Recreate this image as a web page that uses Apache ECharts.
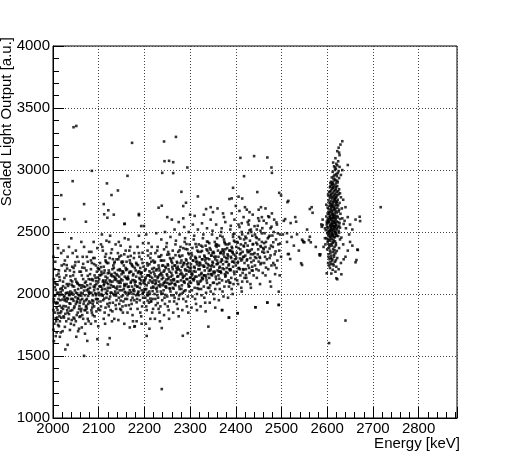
<!DOCTYPE html>
<html>
<head>
<meta charset="utf-8">
<script src="https://cdn.jsdelivr.net/npm/echarts@6/dist/echarts.min.js"></script>
<style>
    html, body { margin: 0; padding: 0; background: #fff; }
    #main { width: 508px; height: 465px; }
</style>
</head>
<body>
<div id="main"></div>
<script>
// x axis / y axis ranges and tick steps
var energyRange = [2000, 2884];
var lightRange = [1000, 4000];

// continuum band, [energy keV, light a.u.]
var band2000 = [[2001,1712],[2003,1985],[2004,1850],[2002,2120],[2006,1930],[2007,1780],[2005,2260],[2009,2010],[2008,1890],[2011,1750],[2010,2075],[2012,1960],[2013,2190],[2014,1820],[2015,1905],[2016,2040],[2017,1690],[2018,2330],[2019,1995],[2001,1870],[2002,1935],[2004,2055],[2006,1805],[2008,2150],[2010,1870],[2012,2010],[2013,1740],[2015,2110],[2016,1950],[2018,1860],[2019,2230],[2003,1760],[2005,1990],[2007,2080],[2009,1930],[2011,1845],[2014,1990],[2017,2015],[2001,2300],[2011,2370],[2006,1660],[2015,1780],[2003,2200],[2009,1810],[2019,1890],
    [2021,1955],[2022,2100],[2023,1820],[2024,2240],[2025,1985],[2026,1735],[2027,2050],[2028,1900],[2029,2150],[2030,2010],[2031,1870],[2032,2300],[2033,1960],[2034,1800],[2035,2080],[2036,1925],[2037,2190],[2038,2020],[2039,1760],[2021,2030],[2022,1880],[2024,1975],[2025,2130],[2027,1840],[2028,2005],[2030,1940],[2031,2205],[2033,2065],[2034,1890],[2036,1990],[2037,1710],[2039,2110],[2040,1960],[2023,2350],[2026,2270],[2029,1780],[2032,1850],[2035,1995],[2038,1865],[2021,1700],[2024,1810],[2030,2080],[2035,2380],[2039,2000],[2027,1960],
    [2041,1790],[2042,2010],[2043,1960],[2044,2150],[2045,1810],[2046,2060],[2047,1900],[2048,2230],[2049,1975],[2050,1780],[2051,2100],[2052,1940],[2053,2300],[2054,1850],[2055,2040],[2056,1990],[2057,1720],[2058,2180],[2059,1930],[2041,2075],[2042,1870],[2044,1995],[2045,2210],[2047,1800],[2048,2030],[2050,1920],[2051,1655],[2053,2090],[2054,1960],[2056,2260],[2057,1880],[2059,2070],[2060,1820],[2043,2330],[2046,1750],[2049,2120],[2052,1830],[2055,1965],[2058,1990],[2042,2220],[2050,2350],[2055,1700],[2058,1815],[2045,1945],[2053,2005],
    [2061,2010],[2062,1880],[2063,2150],[2064,1960],[2065,2300],[2066,1800],[2067,2060],[2068,1940],[2069,2210],[2070,1990],[2071,1760],[2072,2100],[2073,1905],[2074,2030],[2075,1850],[2076,2260],[2077,1985],[2078,2120],[2079,1940],[2061,2180],[2062,2050],[2064,1830],[2065,2005],[2067,1920],[2068,2380],[2070,2090],[2071,1870],[2073,2190],[2074,1960],[2076,1800],[2077,2040],[2079,2340],[2080,2010],[2063,1730],[2066,2120],[2069,1870],[2072,1950],[2075,2070],[2078,1780],[2062,2420],[2074,2300],[2064,2070],[2070,1680],[2077,1920],[2060,1950],
    [2081,2050],[2082,1930],[2083,2200],[2084,2010],[2085,1850],[2086,2120],[2087,1990],[2088,2290],[2089,2060],[2090,1900],[2091,2150],[2092,2005],[2093,1780],[2094,2230],[2095,2080],[2096,1960],[2097,2370],[2098,2040],[2099,1880],[2081,2160],[2082,2080],[2084,1870],[2085,2250],[2087,2110],[2088,1940],[2090,2030],[2091,1820],[2093,2130],[2094,1990],[2096,2180],[2097,1930],[2099,2100],[2100,2010],[2083,1760],[2086,1950],[2089,2420],[2092,2070],[2095,1860],[2098,2210],[2084,2340],[2091,2290],[2095,2000],[2099,1740],[2087,1830],[2100,2200],
    [2004,2088],[2007,1923],[2012,2163],[2016,1847],[2019,2047],[2023,1903],[2027,2187],[2031,1967],[2035,1838],[2038,2143],[2043,2063],[2046,1887],[2049,2257],[2053,1934],[2057,2073],[2061,1861],[2064,2213],[2068,2027],[2072,1897],[2076,2147],[2079,2003],[2083,2271],[2087,1917],[2091,2053],[2094,1959],[2098,2133],
    [2002,1957],[2006,2033],[2010,1927],[2014,2137],[2018,1809],[2022,2063],[2026,1947],[2030,2233],[2034,2011],[2038,1921],[2042,2101],[2046,2177],[2050,2011],[2054,2083],[2058,1903],[2062,1987],[2066,2243],[2070,2057],[2074,1883],[2078,2019],[2082,2117],[2086,1891],[2090,2241],[2094,2103],[2098,1957]];

var band2100 = [[2101,2120],[2102,1990],[2103,2250],[2104,2060],[2105,1900],[2106,2180],[2107,2030],[2108,2380],[2109,2100],[2110,1950],[2111,2220],[2112,2080],[2113,1850],[2114,2300],[2115,2140],[2116,2010],[2117,2430],[2118,2090],[2119,1920],[2101,2200],[2102,2150],[2104,1940],[2105,2060],[2107,2160],[2108,1990],[2110,2110],[2111,1800],[2113,2190],[2114,2040],[2116,2260],[2117,1970],[2119,2130],[2120,2050],[2103,1870],[2106,2000],[2109,2350],[2112,2170],[2115,1890],[2118,2250],[2105,2400],[2111,2070],[2114,1760],[2118,2000],[2107,2480],[2116,2110],
    [2121,2080],[2122,2190],[2123,1960],[2124,2290],[2125,2050],[2126,1870],[2127,2150],[2128,2010],[2129,2360],[2130,2100],[2131,1930],[2132,2230],[2133,2060],[2134,1800],[2135,2170],[2136,2020],[2137,2400],[2138,2120],[2139,1950],[2121,2250],[2122,1900],[2124,2110],[2125,1980],[2127,2330],[2128,2160],[2130,1860],[2131,2060],[2133,2210],[2134,1990],[2136,2130],[2137,1910],[2139,2280],[2140,2040],[2123,2420],[2126,2100],[2129,1780],[2132,2000],[2135,2260],[2138,1880],[2125,2470],[2130,2200],[2134,2140],[2137,2050],[2122,1830],[2139,2160],
    [2141,2150],[2142,2010],[2143,2280],[2144,2090],[2145,1920],[2146,2200],[2147,2060],[2148,2390],[2149,2120],[2150,1980],[2151,2250],[2152,2110],[2153,1850],[2154,2170],[2155,2040],[2156,2320],[2157,2140],[2158,1960],[2159,2210],[2141,2060],[2142,2330],[2144,1970],[2145,2140],[2147,1880],[2148,2090],[2150,2260],[2151,2030],[2153,2180],[2154,1940],[2156,2080],[2157,2450],[2159,2010],[2160,2130],[2143,1790],[2146,2030],[2149,2310],[2152,1900],[2155,2230],[2158,2070],[2144,2420],[2150,2160],[2153,1990],[2156,1760],[2159,2350],[2147,2190],
    [2161,2080],[2162,2200],[2163,1990],[2164,2300],[2165,2120],[2166,1910],[2167,2170],[2168,2030],[2169,2380],[2170,2090],[2171,1950],[2172,2240],[2173,2060],[2174,1830],[2175,2150],[2176,2000],[2177,2290],[2178,2110],[2179,1740],[2161,2260],[2162,1960],[2164,2140],[2165,2010],[2167,2350],[2168,2180],[2170,1880],[2171,2100],[2173,2230],[2174,1970],[2176,2160],[2177,2040],[2179,2210],[2180,2070],[2163,1850],[2166,2060],[2169,2250],[2172,1920],[2175,2030],[2178,2330],[2165,2440],[2171,2180],[2175,1780],[2162,2120],[2178,1950],[2168,1730],
    [2181,2100],[2182,1990],[2183,2240],[2184,2060],[2185,1880],[2186,2170],[2187,2020],[2188,2330],[2189,2130],[2190,1950],[2191,2210],[2192,2080],[2193,1820],[2194,2280],[2195,2140],[2196,2000],[2197,2410],[2198,2090],[2199,1930],[2181,2190],[2182,2140],[2184,1960],[2185,2060],[2187,2180],[2188,1990],[2190,2120],[2191,1850],[2193,2170],[2194,2030],[2196,2250],[2197,1970],[2199,2110],[2200,2040],[2183,1780],[2186,2010],[2189,2300],[2192,2160],[2195,1900],[2198,2220],[2185,2380],[2190,2050],[2194,1760],[2199,2020],[2188,2470],
    [2102,2063],[2105,2217],[2109,1987],[2113,2097],[2116,2323],[2120,2167],[2124,1927],[2127,2073],[2131,2281],[2135,2113],[2138,1987],[2142,2193],[2146,2103],[2149,1871],[2153,2261],[2157,2017],[2160,2193],[2164,2057],[2168,2271],[2171,2013],[2175,2221],[2179,2093],[2183,1933],[2186,2233],[2190,2087],[2194,2173],[2197,2009],
    [2104,2153],[2108,2043],[2112,1963],[2115,2271],[2119,2027],[2123,2171],[2126,2011],[2130,2143],[2134,2249],[2137,2001],[2141,2103],[2145,2301],[2148,1947],[2152,2183],[2156,2063],[2159,1907],[2163,2127],[2167,2003],[2170,2307],[2174,2113],[2178,2023],[2182,2251],[2185,1997],[2189,2181],[2193,2109],[2196,2333],[2200,2103]];

var band2200 = [[2201,2080],[2202,1970],[2203,2200],[2204,2040],[2205,1870],[2206,2150],[2207,2010],[2208,2310],[2209,2090],[2210,1930],[2211,2240],[2212,2110],[2213,1800],[2214,2170],[2215,2050],[2216,2380],[2217,2130],[2218,1960],[2219,2270],[2201,2190],[2202,2120],[2204,1900],[2205,2070],[2207,2230],[2208,1990],[2210,2150],[2211,2020],[2213,2290],[2214,1940],[2216,2100],[2217,1850],[2219,2060],[2220,2180],[2203,1760],[2206,1990],[2209,2410],[2212,2000],[2215,2260],[2218,2090],[2204,2480],[2211,1720],[2215,1940],[2219,1880],[2207,2350],[2213,2140],
    [2221,2110],[2222,2000],[2223,2260],[2224,2080],[2225,1910],[2226,2190],[2227,2050],[2228,2350],[2229,2130],[2230,1970],[2231,2230],[2232,2100],[2233,1850],[2234,2300],[2235,2160],[2236,2020],[2237,2440],[2238,2120],[2239,1950],[2221,2210],[2222,2160],[2224,1960],[2225,2090],[2227,2200],[2228,2020],[2230,2140],[2231,1880],[2233,2190],[2234,2060],[2236,2270],[2237,2000],[2239,2150],[2240,2070],[2223,1800],[2226,2040],[2229,2380],[2232,2210],[2235,1900],[2238,2270],[2226,2490],[2231,2070],[2234,1780],[2237,2170],[2224,2330],
    [2241,2130],[2242,2030],[2243,2270],[2244,2090],[2245,1920],[2246,2220],[2247,2060],[2248,2380],[2249,2160],[2250,1980],[2251,2240],[2252,2120],[2253,1870],[2254,2320],[2255,2180],[2256,2040],[2257,2460],[2258,2140],[2259,1990],[2241,2230],[2242,2180],[2244,1970],[2245,2100],[2247,2210],[2248,2050],[2250,2150],[2251,1900],[2253,2200],[2254,2080],[2256,2290],[2257,2020],[2259,2170],[2260,2090],[2243,1830],[2246,2060],[2249,2410],[2252,2230],[2255,1940],[2258,2280],[2245,2500],[2250,2090],[2254,1800],[2258,2110],[2243,2360],
    [2261,2150],[2262,2050],[2263,2290],[2264,2110],[2265,1940],[2266,2230],[2267,2080],[2268,2400],[2269,2180],[2270,2010],[2271,2260],[2272,2140],[2273,1880],[2274,2340],[2275,2200],[2276,2060],[2277,2480],[2278,2160],[2279,2000],[2261,2250],[2262,2200],[2264,1990],[2265,2120],[2267,2230],[2268,2070],[2270,2170],[2271,1920],[2273,2220],[2274,2100],[2276,2310],[2277,2040],[2279,2190],[2280,2110],[2263,1850],[2266,2080],[2269,2430],[2272,2250],[2275,1960],[2278,2300],[2266,2520],[2271,2100],[2275,1820],[2279,2380],[2262,2350],
    [2281,2170],[2282,2070],[2283,2310],[2284,2130],[2285,1960],[2286,2250],[2287,2100],[2288,2420],[2289,2200],[2290,2030],[2291,2280],[2292,2160],[2293,1900],[2294,2360],[2295,2220],[2296,2080],[2297,2500],[2298,2180],[2299,2020],[2281,2270],[2282,2220],[2284,2010],[2285,2140],[2287,2250],[2288,2090],[2290,2190],[2291,1940],[2293,2240],[2294,2120],[2296,2330],[2297,2060],[2299,2210],[2300,2130],[2283,1870],[2286,2100],[2289,2450],[2292,2270],[2295,1980],[2298,2320],[2287,2540],[2292,2120],[2296,1850],[2299,2400],[2285,2370],
    [2202,2037],[2206,2249],[2209,2151],[2213,1963],[2217,2203],[2220,2051],[2224,2143],[2228,1991],[2231,2301],[2235,2077],[2239,2229],[2242,2087],[2246,1993],[2250,2317],[2253,2133],[2257,2081],[2261,2219],[2264,2043],[2268,2313],[2272,2197],[2276,1989],[2279,2251],[2283,2157],[2287,2023],[2290,2363],[2294,2189],[2298,2063],
    [2203,2133],[2207,1947],[2211,2183],[2214,2327],[2218,2023],[2222,2253],[2226,2109],[2229,1927],[2233,2151],[2237,2313],[2240,2003],[2244,2191],[2248,2117],[2252,2339],[2255,2047],[2259,2263],[2263,2117],[2266,1969],[2270,2209],[2274,2143],[2277,2353],[2281,2041],[2285,2233],[2288,2147],[2292,2403],[2296,2249],[2299,2099]];

var band2300 = [[2301,2190],[2302,2090],[2303,2330],[2304,2150],[2305,1980],[2306,2270],[2307,2120],[2308,2440],[2309,2220],[2310,2050],[2311,2300],[2312,2180],[2313,1920],[2314,2380],[2315,2240],[2316,2100],[2317,2520],[2318,2200],[2319,2040],[2301,2290],[2302,2240],[2304,2030],[2305,2160],[2307,2270],[2308,2110],[2310,2210],[2311,1960],[2313,2260],[2314,2140],[2316,2350],[2317,2080],[2319,2230],[2320,2150],[2303,1890],[2306,2120],[2309,2470],[2312,2290],[2315,2000],[2318,2340],[2306,2560],[2311,2140],[2315,1870],[2319,2400],[2303,2170],
    [2321,2200],[2322,2100],[2323,2340],[2324,2160],[2325,1990],[2326,2280],[2327,2130],[2328,2450],[2329,2230],[2330,2060],[2331,2310],[2332,2190],[2333,1930],[2334,2390],[2335,2250],[2336,2110],[2337,2530],[2338,2210],[2339,2050],[2321,2300],[2322,2250],[2324,2040],[2325,2170],[2327,2280],[2328,2120],[2330,2220],[2331,1970],[2333,2270],[2334,2150],[2336,2360],[2337,2090],[2339,2240],[2340,2160],[2323,1900],[2326,2130],[2329,2480],[2332,2300],[2335,2010],[2338,2350],[2326,2570],[2331,2150],[2334,1860],[2339,2420],[2324,2390],
    [2341,2230],[2342,2130],[2343,2370],[2344,2190],[2345,2020],[2346,2310],[2347,2160],[2348,2480],[2349,2260],[2350,2090],[2351,2340],[2352,2220],[2353,1960],[2354,2420],[2355,2280],[2356,2140],[2357,2560],[2358,2240],[2359,2080],[2341,2330],[2342,2280],[2344,2070],[2345,2200],[2347,2310],[2348,2150],[2350,2250],[2351,2000],[2353,2300],[2354,2180],[2356,2390],[2357,2120],[2359,2270],[2360,2190],[2343,1930],[2346,2160],[2349,2510],[2352,2330],[2355,2040],[2358,2380],[2345,2600],[2351,2180],[2355,1890],[2359,2450],[2342,2410],
    [2361,2250],[2362,2150],[2363,2390],[2364,2210],[2365,2040],[2366,2330],[2367,2180],[2368,2500],[2369,2280],[2370,2110],[2371,2360],[2372,2240],[2373,1980],[2374,2440],[2375,2300],[2376,2160],[2377,2580],[2378,2260],[2379,2100],[2361,2350],[2362,2300],[2364,2090],[2365,2220],[2367,2330],[2368,2170],[2370,2270],[2371,2020],[2373,2320],[2374,2200],[2376,2410],[2377,2140],[2379,2290],[2380,2210],[2363,1950],[2366,2180],[2369,2530],[2372,2350],[2375,2060],[2378,2400],[2370,1870],[2374,2620],[2366,2470],[2377,2360],
    [2381,2260],[2382,2170],[2383,2400],[2384,2230],[2385,2060],[2386,2350],[2387,2200],[2388,2520],[2389,2300],[2390,2130],[2391,2380],[2392,2260],[2393,2000],[2394,2460],[2395,2320],[2396,2180],[2397,2600],[2398,2280],[2399,2120],[2381,2370],[2382,2320],[2384,2110],[2385,2240],[2387,2350],[2388,2190],[2390,2290],[2391,2040],[2393,2340],[2394,2220],[2396,2430],[2397,2160],[2399,2310],[2400,2230],[2383,1970],[2386,2200],[2389,2550],[2392,2370],[2395,2080],[2398,2420],[2385,1810],[2391,2650],[2394,2480],[2388,2090],
    [2302,2213],[2305,2371],[2309,2123],[2313,2287],[2316,2047],[2320,2253],[2324,2109],[2327,2381],[2331,2221],[2335,2133],[2338,2287],[2342,2049],[2346,2223],[2349,2333],[2353,2167],[2357,2401],[2360,2243],[2364,2123],[2368,2339],[2371,2207],[2375,2421],[2379,2177],[2383,2309],[2386,2093],[2390,2347],[2394,2261],[2397,2487],
    [2301,2133],[2304,2311],[2308,2183],[2312,2403],[2315,2261],[2319,2081],[2323,2233],[2326,2347],[2330,2151],[2334,2287],[2337,2423],[2341,2187],[2345,2357],[2348,2233],[2352,2091],[2356,2301],[2359,2397],[2363,2181],[2367,2259],[2371,2461],[2374,2337],[2378,2149],[2382,2287],[2386,2407],[2389,2197],[2393,2333],[2397,2253]];

var band2400 = [[2401,2290],[2402,2180],[2403,2420],[2404,2250],[2405,2080],[2406,2370],[2407,2210],[2408,2540],[2409,2320],[2410,2150],[2411,2400],[2412,2270],[2413,2020],[2414,2480],[2415,2340],[2416,2200],[2417,2620],[2418,2300],[2419,2130],[2401,2380],[2403,2110],[2405,2260],[2407,2460],[2409,2200],[2411,2330],[2413,2500],[2415,2170],[2417,2390],[2419,2250],[2404,1845],[2406,2560],[2410,2360],[2414,2100],[2418,2440],[2408,2670],[2412,2050],[2416,2300],
    [2421,2310],[2422,2200],[2423,2450],[2424,2270],[2425,2100],[2426,2390],[2427,2230],[2428,2560],[2429,2340],[2430,2170],[2431,2430],[2432,2290],[2433,2050],[2434,2500],[2435,2360],[2436,2220],[2437,2640],[2438,2320],[2439,2150],[2421,2410],[2423,2130],[2425,2280],[2427,2490],[2429,2210],[2431,2350],[2433,2520],[2435,2190],[2437,2400],[2439,2270],[2426,2580],[2432,2080],[2436,2470],[2424,2680],
    [2441,2330],[2442,2230],[2443,1893],[2444,2460],[2445,2290],[2446,2130],[2447,2400],[2448,2550],[2449,2360],[2450,2190],[2451,2440],[2452,2300],[2453,2080],[2454,2510],[2455,2380],[2456,2250],[2457,2620],[2458,2340],[2459,2170],[2442,2480],[2445,2200],[2448,2320],[2451,2590],[2454,2240],[2457,2420],[2460,2370],[2450,2680],[2446,2520],
    [2461,2360],[2462,2250],[2463,2490],[2464,2300],[2465,2150],[2466,2420],[2467,2570],[2469,1931],[2470,2340],[2471,2200],[2472,2460],[2473,2620],[2474,2290],[2475,2100],[2476,2530],[2477,2390],[2478,2230],[2479,2650],[2462,2410],[2468,2280],[2474,2470],[2477,2060],
    [2481,2380],[2482,2250],[2483,2500],[2485,2320],[2486,2160],[2488,2440],[2490,2560],[2491,2270],[2493,2400],[2494,2019],[2494,1912],[2495,2350],[2496,2150],[2497,2480],[2499,2300],[2484,2600],[2489,2210],
    [2402,2333],[2406,2207],[2410,2447],[2414,2281],[2418,2383],[2422,2153],[2426,2337],[2430,2513],[2434,2257],[2438,2403],[2442,2297],[2446,2451],[2450,2261],[2454,2387],[2458,2531],[2462,2333],[2466,2213],[2470,2449],[2474,2367],[2478,2543],[2482,2417],[2487,2343],[2492,2489],[2497,2407],
    [2404,2413],[2409,2287],[2413,2571],[2417,2197],[2421,2463],[2425,2353],[2429,2593],[2433,2321],[2437,2189],[2441,2547],[2445,2413],[2449,2611],[2453,2291],[2457,2489],[2461,2591],[2465,2379],[2471,2627],[2476,2311],[2480,2471],[2485,2233],[2489,2577]];

// sparse region between continuum and the 2614 keV line
var band2500 = [[2503,2480],[2505,2590],[2508,2604],[2512,2420],[2512,2490],[2514,2322],[2516,2322],[2519,2282],[2520,2572],[2522,2460],[2527,2390],[2532,2583],[2534,2481],[2538,2350],[2543,2248],[2545,2234],[2545,2438],[2547,2427],[2548,2419],[2550,2417],[2556,2520],[2560,2435],[2562,2462],[2564,2417],[2562,2685],[2568,2655],[2575,2380],[2584,2310],[2585,2320],[2588,2542],[2590,2555],[2599,2167],[2515,2751],[2513,2741],[2595,2450],[2592,2380]];

// 2614 keV full-energy peak
var peak2614 = [[2633,3232],[2629,3205],[2625,3180],[2622,3152],[2627,3120],[2618,3095],[2624,3070],[2620,3050],[2645,3040],[2615,3030],[2627,3025],[2633,2999],[2619,3010],[2612,2985],[2623,2975],[2616,2960],[2621,2950],[2610,2940],[2626,2935],[2614,2925],[2618,2915],[2608,2905],[2623,2900],[2630,2960],[2617,3000],[2613,3060],[2626,3140],[2611,2890],
    [2610,2880],[2616,2875],[2622,2870],[2606,2860],[2613,2855],[2619,2850],[2626,2845],[2609,2835],[2615,2830],[2621,2825],[2604,2820],[2612,2815],[2618,2810],[2625,2805],[2608,2795],[2614,2790],[2620,2785],[2630,2780],[2606,2775],[2611,2770],[2617,2765],[2623,2760],[2603,2755],[2609,2750],[2615,2745],[2621,2740],[2627,2735],[2607,2730],[2612,2725],[2618,2720],[2624,2715],[2605,2710],[2610,2705],[2616,2700],[2622,2695],[2632,2690],[2603,2685],[2608,2680],[2614,2675],[2619,2670],[2625,2665],[2606,2660],[2611,2655],[2617,2652],[2601,2650],[2613,2885],[2619,2892],[2607,2868],[2624,2828],[2602,2800],[2628,2812],[2613,2742],[2619,2778],[2608,2712],[2615,2690],[2621,2716],[2610,2668],[2635,2760],[2640,2700],[2598,2720],[2616,2800],[2611,2850],[2620,2735],[2605,2790],[2626,2680],
    [2604,2645],[2610,2640],[2616,2635],[2622,2630],[2598,2625],[2607,2620],[2613,2615],[2619,2610],[2628,2605],[2601,2600],[2609,2595],[2615,2590],[2621,2585],[2604,2580],[2611,2575],[2617,2570],[2636,2565],[2599,2560],[2606,2555],[2612,2550],[2618,2545],[2624,2540],[2602,2535],[2608,2530],[2614,2525],[2620,2520],[2597,2515],[2605,2510],[2611,2505],[2617,2500],[2626,2495],[2600,2490],[2607,2485],[2613,2480],[2619,2475],[2603,2470],[2609,2465],[2615,2460],[2631,2455],[2598,2450],[2606,2632],[2612,2612],[2618,2598],[2603,2588],[2609,2568],[2615,2548],[2621,2528],[2605,2498],[2611,2478],[2617,2458],[2623,2618],[2600,2572],[2608,2542],[2614,2512],[2620,2492],[2626,2552],[2633,2610],[2641,2530],[2648,2480],[2655,2520],[2662,2600],[2671,2623],[2672,2588],[2587,2561],[2590,2600],[2595,2530],[2638,2590],[2645,2620],[2650,2560],[2603,2605],[2610,2525],[2616,2615],[2606,2462],[2612,2590],[2618,2502],[2624,2578],[2602,2505],[2609,2610],[2615,2575],[2621,2470],[2628,2535],[2607,2550],[2613,2630],[2619,2560],[2600,2540],[2605,2620],[2611,2490],[2617,2538],[2625,2510],
    [2601,2440],[2607,2430],[2613,2420],[2619,2410],[2604,2400],[2610,2390],[2616,2380],[2626,2370],[2600,2360],[2606,2350],[2612,2340],[2618,2330],[2603,2320],[2609,2310],[2615,2300],[2622,2290],[2605,2280],[2611,2270],[2617,2260],[2602,2250],[2608,2240],[2614,2230],[2620,2220],[2606,2210],[2612,2195],[2618,2180],[2609,2165],[2622,2119],[2631,2159],[2620,2127],[2583,2320],[2664,2274],[2667,2355],[2666,2358],[2662,2256],[2640,2300],[2635,2400],[2645,2350],[2650,2420],[2630,2250],[2655,2390],[2628,2440],[2636,2280],[2612,2412],[2604,2372],[2616,2352],[2608,2292],[2603,2432],[2617,2425],[2610,2445],[2604,2230],[2596,2400],[2625,2200],
    [2607,2893],[2613,2861],[2618,2837],[2609,2809],[2622,2797],[2611,2783],[2616,2757],[2605,2737],[2620,2749],[2613,2707],[2609,2691],[2617,2683],[2604,2663],[2621,2657],[2612,2643],[2607,2603],[2617,2627],[2603,2577],[2611,2563],[2620,2553],[2608,2513],[2615,2533],[2603,2483],[2612,2467],[2618,2487],[2606,2447],[2614,2437],[2601,2417],[2609,2403],[2619,2393],[2605,2387],[2613,2363],[2621,2347],[2607,2333],[2615,2317],[2603,2297],[2611,2283],[2619,2273],[2607,2257],[2613,2243],[2610,2721],[2616,2773],[2606,2829],[2619,2863],[2612,2903],[2617,2923],[2622,2913],[2614,2947],[2620,2967],[2625,2991],[2617,3021],[2622,3037],[2612,2547],[2618,2577],[2606,2517],[2624,2467],[2599,2583],[2627,2573],[2601,2697],[2629,2647]];

// scattered events above / below the band
var outliersHigh = [[2045,3345],[2051,3355],[2043,2910],[2085,2993],[2018,2797],[2025,2604],[2068,2725],[2072,2583],[2118,2892],[2111,2725],[2128,2798],[2142,2835],[2121,2675],[2133,2640],[2112,2643],[2119,2615],[2173,3219],[2163,2953],[2157,2567],[2188,2645],[2188,2635],[2199,2548],[2243,3230],[2269,3267],[2239,2977],[2244,3071],[2254,3074],[2263,3063],[2263,2975],[2294,3020],[2231,2696],[2238,2712],[2281,2824],[2285,2709],[2291,2736],[2317,2787],[2335,2685],[2394,2856],[2391,2771],[2410,3098],[2440,3112],[2418,2950],[2406,2785],[2414,2770],[2386,2766],[2447,2822],[2469,3101],[2478,3020],[2479,2977],[2495,2816],[2499,2795],[2040,2449],[2156,2564],[2193,2548],[2717,2700],[2566,2700],[2530,2620],
    [2330,2640],[2350,2660],[2360,2690],[2372,2650],[2420,2700],[2430,2660],[2455,2700],[2465,2690],[2400,2710],[2345,2700],[2310,2630],[2300,2640],[2285,2610],[2260,2600],[2250,2620],[2275,2580]];
var outliersLow = [[2238,1233],[2068,1501],[2027,1553],[2032,1590],[2120,1593],[2124,1644],[2075,1622],[2097,1636],[2284,1663],[2295,1684],[2205,1662],[2340,1737],[2238,1725],[2178,1737],[2385,1810],[2404,1845],[2370,1870],[2443,1893],[2469,1931],[2494,1912],[2640,1786],[2604,1604],[2002,1620],[2008,1690],[2015,1655]];

var allPoints = [].concat(band2000, band2100, band2200, band2300, band2400, band2500, peak2614, outliersHigh, outliersLow);

var myChart = echarts.init(document.getElementById('main'));
var font = 'Liberation Sans';
var option = {
    animation: false,
    backgroundColor: '#fff',
    grid: {
        left: 53,
        right: 51,
        top: 46,
        bottom: 47,
        show: true,
        borderColor: '#000',
        borderWidth: 1
    },
    xAxis: {
        type: 'value',
        min: energyRange[0],
        max: energyRange[1],
        interval: 100,
        axisLine: { lineStyle: { color: '#000', width: 1 } },
        axisTick: { inside: true, length: 11, lineStyle: { color: '#000' } },
        minorTick: { show: true, splitNumber: 5, length: 6, lineStyle: { color: '#000' } },
        splitLine: { show: true, lineStyle: { color: '#444', type: [1, 2], width: 1 } },
        axisLabel: {
            color: '#000',
            fontFamily: font,
            fontSize: 15,
            margin: 3,
            showMaxLabel: false,
            formatter: function(v) { return String(v); }
        }
    },
    yAxis: {
        type: 'value',
        min: lightRange[0],
        max: lightRange[1],
        interval: 500,
        axisLine: { show: true, lineStyle: { color: '#000', width: 1 } },
        axisTick: { show: true, inside: true, length: 11, lineStyle: { color: '#000' } },
        minorTick: { show: true, splitNumber: 5, length: 6, lineStyle: { color: '#000' } },
        splitLine: { show: true, lineStyle: { color: '#444', type: [1, 2], width: 1 } },
        axisLabel: {
            color: '#000',
            fontFamily: font,
            fontSize: 15,
            margin: 3,
            formatter: function(v) { return String(v); }
        }
    },
    graphic: [{
        type: 'text',
        right: 48,
        top: 436,
        style: {
            text: 'Energy [keV]',
            fill: '#000',
            font: '15px "Liberation Sans"'
        }
    }, {
        type: 'text',
        x: 7,
        y: 37,
        rotation: Math.PI / 2,
        style: {
            text: 'Scaled Light Output [a.u.]',
            fill: '#000',
            font: '15px "Liberation Sans"',
            align: 'right',
            verticalAlign: 'middle'
        }
    }],
    series: [{
        type: 'scatter',
        symbol: 'rect',
        symbolSize: 2.6,
        itemStyle: { color: '#000' },
        data: allPoints
    }]
};
myChart.setOption(option);
</script>
</body>
</html>
